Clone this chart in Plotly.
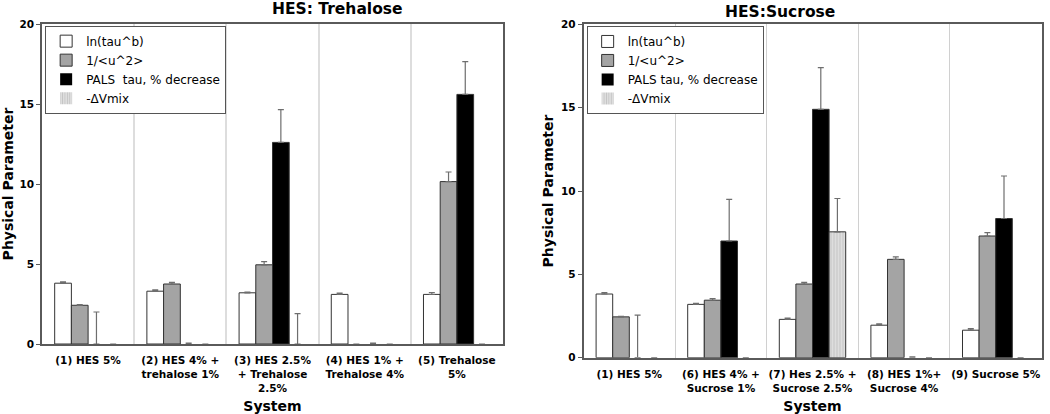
import plotly.graph_objects as go
from plotly.subplots import make_subplots

# ---------------- data ----------------
series_names = ["ln(tau^b)", "1/<u^2>", "PALS  tau, % decrease", "-ΔVmix"]
series_names_r = ["ln(tau^b)", "1/<u^2>", "PALS tau, % decrease", "-ΔVmix"]

left_categories = ["(1) HES 5%", "(2) HES 4% +<br>trehalose 1%", "(3) HES 2.5%<br>+ Trehalose<br>2.5%",
                   "(4) HES 1% +<br>Trehalose 4%", "(5) Trehalose<br>5%"]
left_ln = [3.8, 3.3, 3.2, 3.1, 3.1]
left_ln_err = [0.08, 0.08, 0.05, 0.08, 0.12]
left_u2 = [2.42, 3.75, 4.95, 0, 10.15]
left_u2_err = [0.05, 0.1, 0.2, 0, 0.6]
left_pals = [0, 0, 12.6, 0, 15.6]
left_pals_err = [2.0, 0.05, 2.05, 0.05, 2.05]
left_dv = [0, 0, 0, 0, 0]
left_dv_err = [0, 0, 1.9, 0, 0]

right_categories = ["(1) HES 5%", "(6) HES 4% +<br>Sucrose 1%", "(7) Hes 2.5% +<br>Sucrose 2.5%",
                    "(8) HES 1%+<br>Sucrose 4%", "(9) Sucrose 5%"]
right_ln = [3.82, 3.2, 2.3, 1.95, 1.65]
right_ln_err = [0.08, 0.06, 0.08, 0.08, 0.1]
right_u2 = [2.45, 3.45, 4.42, 5.9, 7.3]
right_u2_err = [0.03, 0.1, 0.1, 0.15, 0.2]
right_pals = [0, 7.0, 14.9, 0, 8.35]
right_pals_err = [2.55, 2.5, 2.5, 0.05, 2.55]
right_dv = [0, 0, 7.55, 0, 0]
right_dv_err = [0, 0, 2.0, 0, 0]

# ---------------- styles ----------------
FONT = "DejaVu Sans"
styles = [
    dict(color="#ffffff"),
    dict(color="#a4a4a4"),
    dict(color="#000000"),
    dict(color="#dcdcdc", pattern=dict(shape="|", fgcolor="#a8a8a8", bgcolor="#dedede", size=3, solidity=0.35)),
]

fig = make_subplots(rows=1, cols=2, horizontal_spacing=0.05)


def add_series(col, cats, vals, errs, names, legend):
    for i, (v, e) in enumerate(zip(vals, errs)):
        st = styles[i]
        marker = dict(color=st["color"],
                      line=dict(color="#333333", width=[1 if val > 0 else 0 for val in v]))
        if "pattern" in st:
            marker["pattern"] = st["pattern"]
        fig.add_trace(go.Bar(
            x=cats, y=v, name=names[i], marker=marker, legend=legend,
            error_y=dict(type="data", symmetric=False, array=e, arrayminus=[0] * len(e),
                         color="#6e6e6e", thickness=1.2, width=3),
        ), row=1, col=col)


add_series(1, left_categories, [left_ln, left_u2, left_pals, left_dv],
           [left_ln_err, left_u2_err, left_pals_err, left_dv_err], series_names, "legend")
add_series(2, right_categories, [right_ln, right_u2, right_pals, right_dv],
           [right_ln_err, right_u2_err, right_pals_err, right_dv_err], series_names_r, "legend2")

W, H = 1050, 414


def px(x):
    return x / W


def py(y):
    return 1 - y / H


lx0, lx1, ly0, ly1 = px(42), px(503), py(344), py(24)
rx0, rx1, ry0, ry1 = px(583.5), px(1041.5), py(357.7), py(24.3)

tickfont = dict(family=FONT, size=10.5, color="#000", weight="bold")
titlefont = dict(family=FONT, size=14, color="#000", weight="bold")
headfont = dict(family=FONT, size=15.5, color="#000", weight="bold")

common_x = dict(type="category", tickson="boundaries", showgrid=True, ticks="",
                showline=True, linecolor="#5a5a5a", linewidth=1.5, mirror=True,
                tickfont=tickfont, tickangle=0, zeroline=False, automargin=False,
                ticklabelstandoff=6)
common_y = dict(range=[0, 20], dtick=5, showgrid=False, ticks="outside", ticklen=4,
                tickcolor="#5a5a5a", showline=True, linecolor="#5a5a5a", linewidth=1.5,
                mirror=True, tickfont=tickfont, zeroline=False, automargin=False)

fig.update_xaxes(common_x, row=1, col=1)
fig.update_xaxes(common_x, row=1, col=2)
fig.update_yaxes(common_y, row=1, col=1)
fig.update_yaxes(common_y, row=1, col=2)

fig.update_layout(
    width=W, height=H,
    margin=dict(l=0, r=0, t=0, b=0, pad=0, autoexpand=False),
    paper_bgcolor="white", plot_bgcolor="white",
    barmode="group", bargap=0.275, bargroupgap=0,
    font=dict(family=FONT, size=12, color="#000"),
    xaxis=dict(domain=[lx0, lx1], gridcolor="#dddddd", gridwidth=2,
               title=dict(text="System", font=titlefont, standoff=12)),
    xaxis2=dict(domain=[rx0, rx1], gridcolor="#d0d0d0", gridwidth=1,
                title=dict(text="System", font=titlefont, standoff=12)),
    yaxis=dict(domain=[ly0, ly1], title=dict(text="Physical Parameter", font=titlefont, standoff=10)),
    yaxis2=dict(domain=[ry0, ry1], title=dict(text="Physical Parameter", font=titlefont, standoff=4)),
    legend=dict(x=lx0 + 0.003, y=ly1 - 0.004, xanchor="left", yanchor="top",
                bgcolor="white", bordercolor="#555555", borderwidth=1,
                font=dict(family=FONT, size=12, color="#000"),
                itemwidth=30, tracegroupgap=0),
    legend2=dict(x=rx0 + 0.003, y=ry1 - 0.004, xanchor="left", yanchor="top",
                 bgcolor="white", bordercolor="#555555", borderwidth=1,
                 font=dict(family=FONT, size=12, color="#000"),
                 itemwidth=30, tracegroupgap=0),
    annotations=[
        dict(text="HES: Trehalose", x=px(270), y=py(9), xref="paper", yref="paper",
             showarrow=False, font=headfont, yanchor="middle"),
        dict(text="HES:Sucrose", x=px(837), y=py(12), xref="paper", yref="paper",
             showarrow=False, font=headfont, yanchor="middle"),
    ],
)

# remove the default page margin so the figure starts at the window's corner
fig.write_html("out.html", config={"displayModeBar": False},
               post_script="document.body.style.margin='0px';")
